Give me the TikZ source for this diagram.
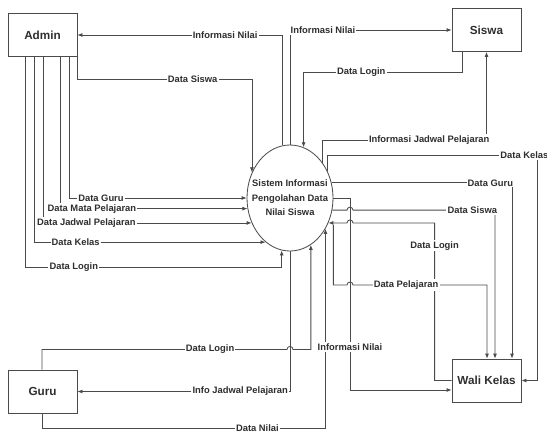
\documentclass[tikz,border=0pt]{standalone}
\usepackage{fontspec}
\setmainfont{Liberation Sans}
\usepackage{tikz}
\usetikzlibrary{arrows.meta,positioning,calc,shapes.geometric}
\definecolor{LineGray}{HTML}{4A4A4A}
\definecolor{TextGray}{HTML}{2E2E2E}

\begin{document}
\begin{tikzpicture}[
    x=0.3mm, y=-0.3mm,
    entity/.style={
        draw=LineGray,
        line width=0.7pt,
        minimum width=20.7mm,
        minimum height=12.9mm,
        inner sep=0pt,
        text=TextGray,
        font=\fontsize{10}{12}\selectfont\bfseries,
    },
    process/.style={
        draw=LineGray,
        ellipse,
        line width=0.7pt,
        minimum width=25.8mm,
        minimum height=31.8mm,
        inner sep=0pt,
    },
    flow/.style={
        ->,
        >={Latex[length=1.5mm,width=1.2mm]},
        line width=0.7pt,
        color=LineGray,
    },
    lbl/.style={
        fill=white,
        inner sep=1pt,
        text=TextGray,
        font=\fontsize{8}{9}\selectfont\bfseries,
    },
]
\useasboundingbox (0,0) rectangle (547,438);

% entitas luar
\node[entity] (admin) at (42.5,35) {Admin};
\node[entity] (siswa) at (486.5,30) {Siswa};
\node[entity] (guru) at (42.5,391.5) {Guru};
\node[entity] (wali) at (486.5,380.5) {Wali Kelas};

% proses
\node[process, label={[align=center,text=TextGray,font=\fontsize{8}{12.5}\selectfont\bfseries]center:Sistem Informasi\\Pengolahan Data\\Nilai Siswa}] (sim) at (290,198) {};
\coordinate (hopx) at (350,0);

% admin
\draw[flow] (sim.98.7) |- node[lbl,pos=0.64]{Informasi Nilai} (admin.east);
\draw[flow] (admin.south east) -- ++(0,22) -| node[lbl,pos=0.33]{Data Siswa} (sim.146.9);
\draw[flow] ($(admin.south)+(26.5,0)$) |- node[lbl,pos=0.59]{Data Guru} (sim.west);
\draw[flow] ($(admin.south)+(17.5,0)$) |- node[lbl,pos=0.585]{Data Mata Pelajaran} (sim.194.7);
\draw[flow] ($(admin.south)+(0.5,0)$) |- node[lbl,pos=0.604]{Data Jadwal Pelajaran} (sim.213.4);
\draw[flow] ($(admin.south)+(-8.5,0)$) |- node[lbl,pos=0.59]{Data Kelas} (sim.241.4);
\draw[flow] ($(admin.south)+(-17.5,0)$) |- node[lbl,pos=0.595]{Data Login} ($(sim.261.3)+(0,17)$) -- (sim.261.3);

% siswa
\draw[flow] (sim.north) |- node[lbl,pos=0.602]{Informasi Nilai} (siswa.west);
\draw[flow] ($(siswa.south)+(-24.5,0)$) -- ++(0,20) -| node[lbl,pos=0.318]{Data Login} (sim.75.6);
\draw[flow] (sim.47.9) |- node[lbl,pos=0.825]{Informasi Jadwal Pelajaran} ($(siswa.south)+(0,88)$) -- (siswa.south);

% guru
\draw[flow] ($(guru.north)+(-0.5,0)$) |- node[lbl,pos=0.843]{Data Login} ($(sim.south)+(-3,98)$)
    arc[start angle=180,end angle=0,radius=0.9mm] -| (sim.-66.9);
\draw[flow] (sim.south) |- node[lbl,pos=0.617]{Info Jadwal Pelajaran} (guru.east);
\draw[flow] ($(guru.south)+(-0.5,0)$) -- ++(0,15) -| node[lbl,pos=0.38]{Data Nilai} (sim.-41.3);

% wali kelas
\draw[flow] (sim.36.1) |- node[lbl,pos=0.969]{Data Kelas} ($(wali.east)+(16,-225.5)$) |- (wali.east);
\draw[flow] (sim.20) -| node[lbl,pos=0.44]{Data Guru} ($(wali.north)+(25.5,0)$);
\draw[flow] (sim.-16) -- ($(sim.-16 -| hopx)+(-3,0)$)
    arc[start angle=180,end angle=0,radius=0.9mm] -| node[lbl,pos=0.42]{Data Siswa} ($(wali.north)+(8.5,0)$);
\draw[flow] (wali.west) -- ++(-17,0) |- node[lbl,pos=0.427]{Data Login} ($(sim.-33.4 -| hopx)+(3,0)$)
    arc[start angle=0,end angle=180,radius=0.9mm] -- (sim.-33.4);
\draw[flow] ($(sim.-33.4)+(5,2)$) |- ($(hopx)+(-3,285)$)
    arc[start angle=180,end angle=0,radius=0.9mm] -| node[lbl,pos=0.198]{Data Pelajaran} ($(wali.north)+(0.5,0)$);
\draw[flow] (sim.east) -- (sim.east -| hopx) |- node[lbl,pos=0.388]{Informasi Nilai} ($(wali.west)+(0,9.5)$);
\end{tikzpicture}
\end{document}
